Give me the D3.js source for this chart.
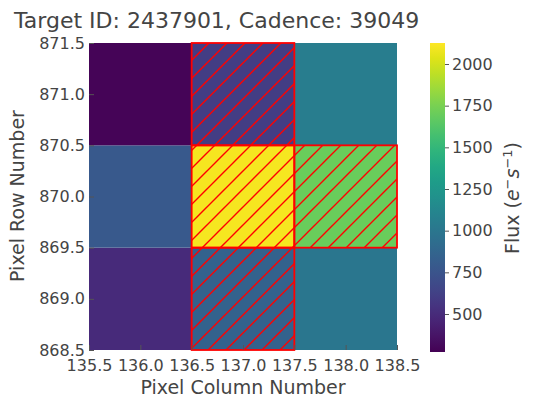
<!DOCTYPE html><html><head><meta charset="utf-8"><script src="https://cdn.jsdelivr.net/npm/d3@7"></script>
<style>body{margin:0;background:#fff}text{font-family:"DejaVu Sans";fill:#444}</style></head><body><svg id="s" width="536" height="409"></svg><script>
const cols=[136,137,138], rows=[869,870,871];
const flux=[[490,850,1000],[780,2100,1700],[290,600,1050]]; // rows bottom->top
const aperture=[[0,1,0],[0,1,1],[0,1,0]];
const xTicks=[135.5,136,136.5,137,137.5,138,138.5], yTicks=[868.5,869,869.5,870,870.5,871,871.5];
const cTicks=[500,750,1000,1250,1500,1750,2000];
const svg=d3.select("#s");
const x=d3.scaleLinear([135.5,138.5],[89,397]), y=d3.scaleLinear([868.5,871.5],[350,43]);
const col=d3.scaleSequential(d3.interpolateViridis).domain([272,2126]);
const defs=svg.append("defs");
const p=defs.append("pattern").attr("id","h").attr("patternUnits","userSpaceOnUse").attr("width",18).attr("height",18);
p.append("path").attr("d","M-3,3 L3,-3 M0,18 L18,0 M15,21 L21,15").attr("stroke","#f00").attr("fill","none").attr("stroke-width",1.4);
const cells=[];rows.forEach((r,i)=>cols.forEach((c,j)=>cells.push({r,c,v:flux[i][j],a:aperture[i][j]})));
svg.selectAll(".c").data(cells).join("rect").attr("x",d=>x(d.c-.5)).attr("y",d=>y(d.r+.5)).attr("width",x(1)-x(0)).attr("height",y(0)-y(1)).attr("fill",d=>col(d.v));
const ap=cells.filter(d=>d.a);
svg.selectAll(".a").data(ap).join("rect").attr("x",d=>x(d.c-.5)).attr("y",d=>y(d.r+.5)).attr("width",x(1)-x(0)).attr("height",y(0)-y(1)).attr("fill","url(#h)").attr("stroke","#f00").attr("stroke-width",1.8);
const gx=svg.append("g").attr("transform","translate(0,350)").call(d3.axisBottom(x).tickValues(xTicks).tickFormat(d3.format(".1f")).tickSize(-5));
const gy=svg.append("g").attr("transform","translate(89,0)").call(d3.axisLeft(y).tickValues(yTicks).tickFormat(d3.format(".1f")).tickSize(-5));
[gx,gy].forEach(g=>{g.select(".domain").remove();g.selectAll("line").attr("stroke","#555");g.selectAll("text").style("font-size","16px").attr("fill","#444");});
gx.selectAll("text").attr("dy","1.1em");gy.selectAll("text").attr("dx","-1");
svg.append("text").attr("x",14).attr("y",28).style("font-size","22px").text("Target ID: 2437901, Cadence: 39049");
svg.append("text").attr("x",243).attr("y",394).attr("text-anchor","middle").style("font-size","19px").text("Pixel Column Number");
svg.append("text").attr("transform","translate(24,196) rotate(-90)").attr("text-anchor","middle").style("font-size","19px").text("Pixel Row Number");
const cy=d3.scaleLinear([272,2126],[352,43]);
const lg=defs.append("linearGradient").attr("id","g").attr("x1",0).attr("y1",1).attr("x2",0).attr("y2",0);
d3.range(0,1.01,0.05).forEach(t=>lg.append("stop").attr("offset",t).attr("stop-color",d3.interpolateViridis(t)));
svg.append("rect").attr("x",430).attr("y",43).attr("width",15).attr("height",309).attr("fill","url(#g)");
const gc=svg.append("g").attr("transform","translate(445,0)").call(d3.axisRight(cy).tickValues(cTicks).tickFormat(d3.format("d")).tickSize(4));
gc.select(".domain").remove();gc.selectAll("text").style("font-size","16px").attr("fill","#444");gc.selectAll("line").attr("stroke","#555");
const t=svg.append("text").attr("transform","translate(519,198) rotate(-90)").attr("text-anchor","middle").style("font-size","19px");
t.append("tspan").text("Flux (");t.append("tspan").style("font-style","italic").text("e");t.append("tspan").attr("dy",-7).style("font-size","13px").text("−");
t.append("tspan").attr("dy",7).style("font-style","italic").text("s");t.append("tspan").attr("dy",-7).style("font-size","13px").text("−1");t.append("tspan").attr("dy",7).text(")");
</script></body></html>
